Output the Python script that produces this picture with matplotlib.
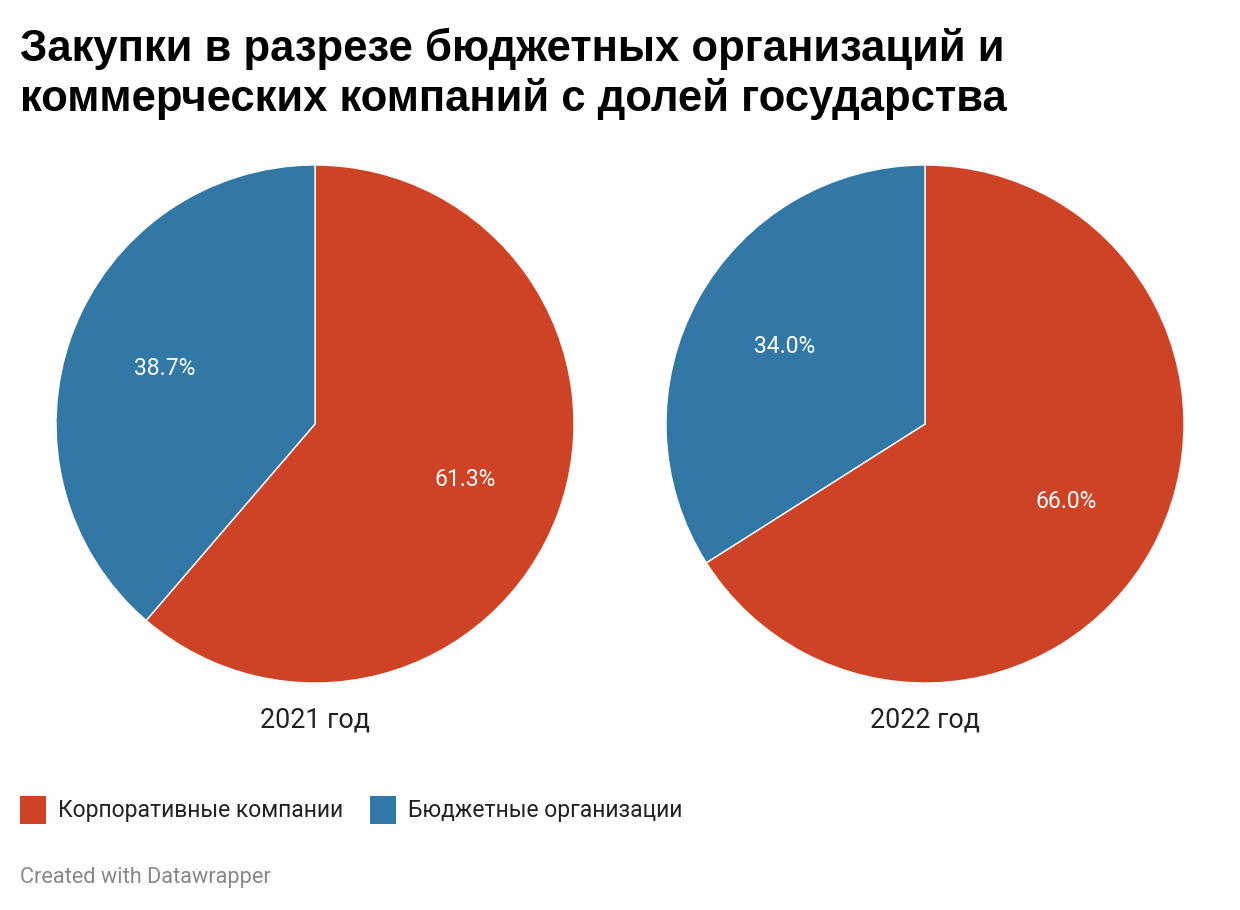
import matplotlib.pyplot as plt
from matplotlib.patches import Rectangle

# data
years = ["2021 год", "2022 год"]
series = ["Корпоративные компании", "Бюджетные организации"]
shares = [[61.3, 38.7], [66.0, 34.0]]
colors = ["#ce4225", "#3178a6"]

title = "Закупки в разрезе бюджетных организаций и\nкоммерческих компаний с долей государства"

W, H = 1240, 910
fig = plt.figure(figsize=(W / 100, H / 100), dpi=100)

def px(x, y):
    return x / W, 1 - y / H

fig.text(*px(20, 28), title, ha="left", va="top", fontsize=31.4,
         fontweight="bold", family="Liberation Sans", linespacing=1.24)

centers = [315, 925]
r = 259
cy = 424
for cx, vals, year in zip(centers, shares, years):
    ax = fig.add_axes([(cx - r) / W, 1 - (cy + r) / H, 2 * r / W, 2 * r / H])
    wedges, texts = ax.pie(vals, colors=colors, startangle=90, counterclock=False,
                           radius=1, wedgeprops=dict(edgecolor="white", linewidth=1),
                           labels=[f"{v:.1f}%" for v in vals], labeldistance=0.62,
                           textprops=dict(color="white", fontsize=16.5, family="Roboto",
                                          ha="center", va="center"))
    ax.set_xlim(-1, 1)
    ax.set_ylim(-1, 1)
    ax.set_aspect("equal")
    ax.axis("off")
    fig.text(*px(cx, 720), year, ha="center", va="center", fontsize=19.4,
             family="Roboto", color="#222222")

# legend
lx = [20, 370]
for x, name, c in zip(lx, series, colors):
    fig.patches.append(Rectangle(px(x, 824), 26 / W, 28 / H, transform=fig.transFigure,
                                 facecolor=c, edgecolor="none"))
    fig.text(*px(x + 38, 810), name, ha="left", va="center", fontsize=16.5,
             family="Roboto", color="#222222")

fig.text(*px(20, 877), "Created with Datawrapper", ha="left", va="center",
         fontsize=15.7, family="Roboto", color="#888888")

fig.savefig("out.png", dpi=100, facecolor="white")
